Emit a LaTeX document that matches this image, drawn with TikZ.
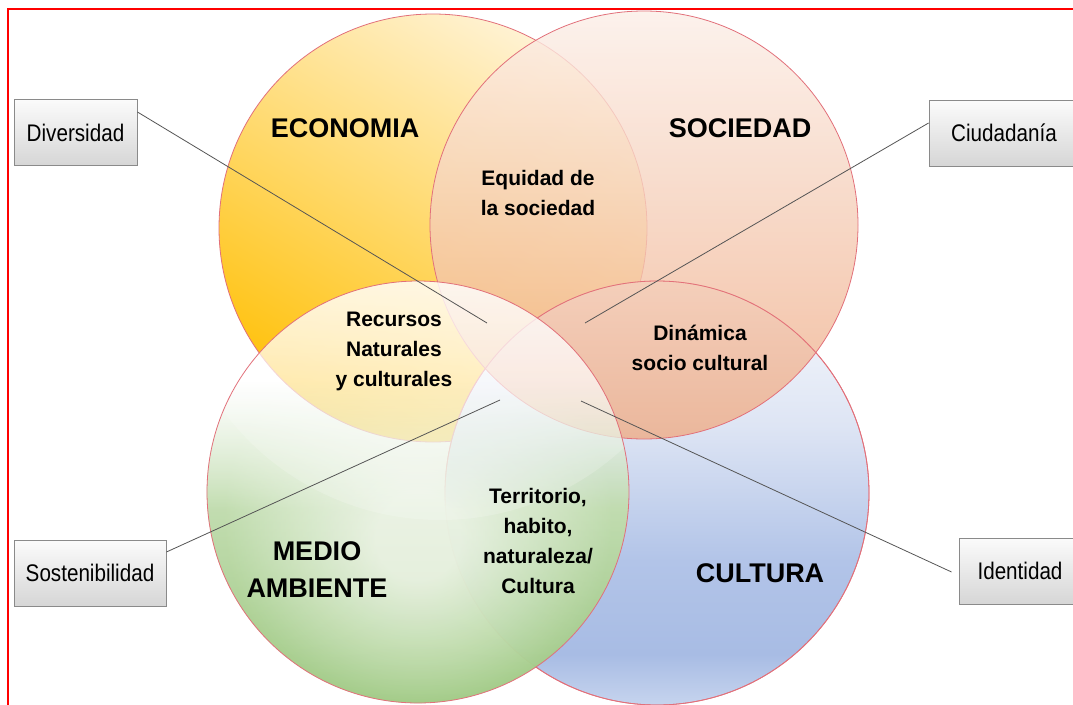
\documentclass[tikz,border=0pt]{standalone}
\usepackage{fontspec}
\setmainfont{Liberation Sans}
\newfontfamily\narrowfont[FakeStretch=0.86]{Liberation Sans}
\usetikzlibrary{fadings}
\definecolor{econTop}{HTML}{FFF2D2}
\definecolor{econBot}{HTML}{FFC10A}
\definecolor{socTop}{HTML}{FCEFE8}
\definecolor{socBot}{HTML}{EFAC86}
\definecolor{cultA}{HTML}{C6D4EE}
\definecolor{cultB}{HTML}{A8BCE4}
\definecolor{cultC}{HTML}{B2C4E8}
\definecolor{cultD}{HTML}{DEE5F4}
\definecolor{cultE}{HTML}{F8FAFD}
\definecolor{medA}{HTML}{DDEBD2}
\definecolor{medB}{HTML}{B9D8A4}
\definecolor{medC}{HTML}{9CC87F}
\definecolor{edgeRed}{HTML}{E2707A}
\definecolor{boxTop}{HTML}{FBFBFB}
\definecolor{boxBot}{HTML}{D6D6D6}
\definecolor{boxLine}{HTML}{8A8A8A}
\definecolor{connGray}{HTML}{555555}
\pgfdeclareverticalshading{cultshade}{100bp}{color(0bp)=(cultA); color(25bp)=(cultA); color(31bp)=(cultB); color(42bp)=(cultC); color(58bp)=(cultD); color(75bp)=(cultE); color(100bp)=(cultE)}
\pgfdeclareradialshading{medshade}{\pgfpoint{0bp}{-6bp}}{color(0bp)=(medA); color(5bp)=(medA); color(15bp)=(medB); color(23bp)=(medC); color(50bp)=(medC)}
\pgfdeclareverticalshading{medmask}{100bp}{color(0bp)=(white); color(25bp)=(white); color(48bp)=(white); color(63bp)=(black); color(100bp)=(black)}
\pgfdeclarefading{medfade}{\pgfuseshading{medmask}}
\tikzfading[name=glossfade, top color=transparent!0, middle color=transparent!100, bottom color=transparent!100]
\begin{document}
\begin{tikzpicture}[x=1pt,y=-1pt,
  edge/.style={draw=edgeRed, line width=0.8pt},
  conn/.style={draw=connGray, line width=0.8pt},
  lbl/.style={draw=boxLine, line width=0.9pt, top color=boxTop, bottom color=boxBot, minimum height=66pt, inner sep=0pt, font=\narrowfont\fontsize{24}{28}\selectfont},
  big/.style={font=\bfseries\fontsize{27}{37}\selectfont, align=center, inner sep=0pt},
  mid/.style={font=\bfseries\fontsize{21}{30}\selectfont, align=center, inner sep=0pt}]
\useasboundingbox (0,0) rectangle (1073,704);
\clip (0,0) rectangle (1073,704);
\fill[white] (0,0) rectangle (1073,704);
\coordinate (E) at (433,228);
\coordinate (S) at (644,225);
\coordinate (M) at (418,492);
\coordinate (C) at (657,493);
% Economia
\shade[top color=econTop, bottom color=econBot, shading angle=-30] (E) circle (214pt);
\draw[edge] (E) circle (214pt);
% Cultura
\shade[shading=cultshade] (C) circle (212pt);
\draw[edge] (C) circle (212pt);
% Sociedad
\shade[top color=socTop, bottom color=socBot, fill opacity=0.8] (S) circle (214pt);
\draw[edge] (S) circle (214pt);
\draw[edge] (C) circle (212pt);
% Medio ambiente
\shade[shading=medshade, path fading=medfade, fill opacity=0.97] (M) circle (211pt);
\fill[white, path fading=glossfade, fill opacity=0.8] (M) circle (211pt);
\begin{scope}
  \clip (M) circle (211pt);
  \fill[white, fill opacity=0.18] (440,250) circle (270pt);
\end{scope}
\draw[edge] (M) circle (211pt);
% texts
\node[big] (teco) at (345,128) {ECONOMIA};
\node[big] (tsoc) at (740,128) {SOCIEDAD};
\node[big] (tmed) at (317,570) {MEDIO\\AMBIENTE};
\node[big] (tcul) at (760,573) {CULTURA};
\node[mid] (tequ) at (538,193) {Equidad de\\la sociedad};
\node[mid] (trec) at (394,351) {Recursos\\Naturales\\y culturales};
\node[mid] (tdin) at (700,348) {Dinámica\\socio cultural};
\node[mid] (tter) at (538,541) {Territorio,\\habito,\\naturaleza/\\Cultura};
% label boxes
\node[lbl, minimum width=123pt] (div) at (75.5,132.5) {Diversidad};
\node[lbl, minimum width=150pt] (ciu) at (1004,133) {Ciudadanía};
\node[lbl, minimum width=152pt] (sos) at (90,573) {Sostenibilidad};
\node[lbl, minimum width=122pt] (ide) at (1020,571) {Identidad};
% connectors
\coordinate (pdiv) at (487,323);
\coordinate (pciu) at (585,323);
\coordinate (psos) at (500,400);
\coordinate (pide) at (581,401);
\draw[conn] ([yshift=20.5pt]div.east) -- (pdiv);
\draw[conn] ([yshift=10pt]ciu.west) -- (pciu);
\draw[conn] ([yshift=21pt]sos.east) -- (psos);
\draw[conn] ([xshift=-7pt,yshift=-1pt]ide.west) -- (pide);
% frame
\draw[red, line width=2pt] (8,712) -- (8,9) -- (1085,9);
\end{tikzpicture}
\end{document}
